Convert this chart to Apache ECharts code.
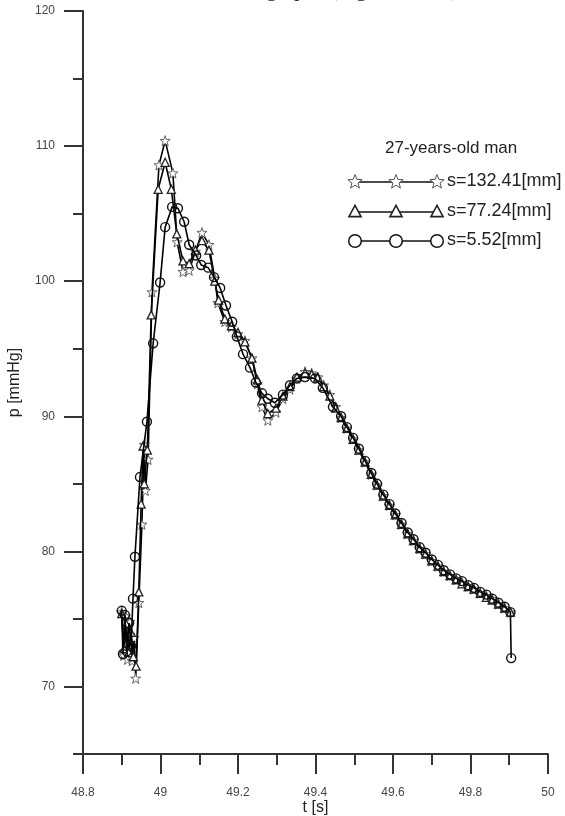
<!DOCTYPE html>
<html>
<head>
<meta charset="utf-8">
<script src="https://cdn.jsdelivr.net/npm/echarts@6/dist/echarts.min.js"></script>
<style>
  html, body { margin: 0; padding: 0; background: #fff; }
  #chart { width: 565px; height: 816px; }
</style>
</head>
<body>
<div id="chart"></div>
<script>
// Pressure waveforms p(t) of a 27-year-old man at three measuring distances s.

// Early part of each waveform (rise, systolic peak, dicrotic notch, dicrotic wave)
const tStar = [48.900, 48.905, 48.910, 48.915, 48.921, 48.927, 48.932, 48.936, 48.944, 48.952,
  48.958, 48.961, 48.968, 48.978, 48.996, 49.012, 49.032, 49.043, 49.058, 49.074,
  49.090, 49.107, 49.125, 49.140, 49.148, 49.166, 49.183, 49.200, 49.218, 49.236,
  49.250, 49.262, 49.277, 49.298, 49.316, 49.334, 49.352, 49.373, 49.390, 49.406,
  49.421, 49.437, 49.452];
const pStar = [75.5, 72.3, 75.2, 72.0, 74.8, 71.9, 73.6, 70.6, 76.2, 82.0,
  87.9, 84.5, 86.8, 99.2, 108.6, 110.4, 108.0, 102.9, 100.7, 100.8,
  102.2, 103.6, 102.7, 100.2, 98.4, 97.0, 96.6, 96.1, 95.6, 94.3,
  92.4, 90.7, 89.7, 90.3, 91.3, 92.0, 92.8, 93.3, 93.2, 92.9,
  92.3, 91.6, 90.7];

const tTri = [48.900, 48.906, 48.912, 48.918, 48.924, 48.930, 48.937, 48.944, 48.950, 48.955,
  48.958, 48.966, 48.976, 48.994, 49.012, 49.028, 49.042, 49.058, 49.074, 49.090,
  49.107, 49.125, 49.140, 49.150, 49.166, 49.183, 49.200, 49.218, 49.236, 49.250,
  49.262, 49.277, 49.298, 49.316, 49.334, 49.352, 49.373, 49.390, 49.406, 49.421,
  49.437, 49.452];
const pTri = [75.4, 72.8, 74.6, 72.5, 74.0, 72.2, 71.5, 77.0, 83.5, 87.8,
  85.0, 87.5, 97.5, 106.8, 108.8, 106.8, 103.5, 101.5, 101.3, 102.3,
  103.0, 102.3, 100.0, 98.6, 97.2, 96.7, 96.2, 95.5, 94.3, 92.7,
  91.2, 90.2, 90.6, 91.5, 92.2, 92.9, 93.2, 93.1, 92.9, 92.2,
  91.5, 90.6];

const tCir = [48.900, 48.903, 48.908, 48.913, 48.919, 48.924, 48.929, 48.934, 48.947, 48.965,
  48.981, 48.999, 49.012, 49.030, 49.045, 49.061, 49.074, 49.092, 49.105, 49.123,
  49.138, 49.154, 49.169, 49.185, 49.197, 49.213, 49.231, 49.246, 49.262, 49.277,
  49.295, 49.316, 49.334, 49.352, 49.373, 49.399, 49.419, 49.445];
const pCir = [75.6, 72.4, 75.3, 72.6, 74.7, 73.0, 76.5, 79.6, 85.5, 89.6,
  95.4, 99.9, 104.0, 105.5, 105.4, 104.4, 102.7, 101.9, 101.2, 101.0,
  100.3, 99.5, 98.2, 97.0, 95.9, 94.6, 93.6, 92.5, 91.7, 91.3,
  91.0, 91.6, 92.3, 92.8, 92.9, 92.8, 92.1, 90.7];

// Diastolic decay, sampled on a common time grid
const tTail = [49.466, 49.481, 49.497, 49.512, 49.528, 49.544, 49.559, 49.575, 49.591, 49.606,
  49.622, 49.638, 49.653, 49.669, 49.684, 49.700, 49.716, 49.731, 49.747, 49.763,
  49.778, 49.794, 49.809, 49.825, 49.841, 49.856, 49.872, 49.888, 49.903];
const pStarTail = [89.9, 89.1, 88.3, 87.5, 86.6, 85.7, 84.9, 84.1, 83.4, 82.7,
  82.0, 81.3, 80.8, 80.2, 79.8, 79.3, 78.9, 78.5, 78.2, 77.9,
  77.7, 77.4, 77.2, 76.9, 76.7, 76.5, 76.1, 75.8, 75.5];
const pTriTail = [89.9, 89.1, 88.3, 87.5, 86.6, 85.7, 84.9, 84.1, 83.4, 82.7,
  82.0, 81.3, 80.8, 80.2, 79.8, 79.3, 78.9, 78.5, 78.2, 77.9,
  77.6, 77.4, 77.2, 76.9, 76.6, 76.4, 76.1, 75.8, 75.5];
const pCirTail = [90.0, 89.2, 88.4, 87.6, 86.7, 85.8, 85.0, 84.2, 83.5, 82.8,
  82.1, 81.4, 80.9, 80.3, 79.9, 79.4, 79.0, 78.6, 78.3, 78.0,
  77.8, 77.5, 77.3, 77.0, 76.8, 76.5, 76.2, 75.9, 75.5];
// last sample of the s=5.52 record
const tCirEnd = [49.905];
const pCirEnd = [72.1];

const seriesNames = ['s=132.41[mm]', 's=77.24[mm]', 's=5.52[mm]'];
const legendTitle = '27-years-old man';
const xTicks = [48.8, 50, 0.2];
const yMajor = [70, 80, 90, 100, 110, 120];
const yMinor = [65, 75, 85, 95, 105, 115];

const pairs = (ts, ps) => ts.map((t, i) => [t, ps[i]]);
const starData = pairs(tStar.concat(tTail), pStar.concat(pStarTail));
const triData = pairs(tTri.concat(tTail), pTri.concat(pTriTail));
const cirData = pairs(tCir.concat(tTail, tCirEnd), pCir.concat(pCirTail, pCirEnd));

const FONT = 'Arial, "Liberation Sans", Helvetica, sans-serif';
const AX = '#333';
const STAR_PATH = 'path://M0,-10L2.35,-3.24L9.51,-3.09L3.8,1.24L5.88,8.09L0,4.2L-5.88,8.09L-3.8,1.24L-9.51,-3.09L-2.35,-3.24Z';

function starPts(cx, cy, R, r) {
  const pts = [];
  for (let k = 0; k < 10; k++) {
    const a = -Math.PI / 2 + k * Math.PI / 5;
    const rad = k % 2 ? r : R;
    pts.push([cx + rad * Math.cos(a), cy + rad * Math.sin(a)]);
  }
  return pts;
}
function triPts(cx, cy, s) {
  return [[cx, cy - s * 0.6], [cx + s * 0.55, cy + s * 0.42], [cx - s * 0.55, cy + s * 0.42]];
}

// hand-drawn style key in the upper right
const keyX = [355, 396, 437];
const keyRows = [182, 212, 241];
const keyGraphics = [{
  type: 'text', left: 385, top: 140,
  style: { text: legendTitle, font: '17px ' + FONT, fill: '#222' }
}];
keyRows.forEach((y, i) => {
  keyGraphics.push({
    type: 'line', shape: { x1: keyX[0], y1: y, x2: keyX[2], y2: y },
    style: { stroke: '#111', lineWidth: 1.3 }
  });
  keyX.forEach(x => {
    if (i === 0) {
      keyGraphics.push({ type: 'polygon', shape: { points: starPts(x, y, 7.5, 3.2) },
        style: { fill: '#fff', stroke: '#555', lineWidth: 1 } });
    } else if (i === 1) {
      keyGraphics.push({ type: 'polygon', shape: { points: triPts(x, y, 11) },
        style: { fill: '#fff', stroke: '#222', lineWidth: 1.6 } });
    } else {
      keyGraphics.push({ type: 'circle', shape: { cx: x, cy: y, r: 6.3 },
        style: { fill: '#fff', stroke: '#111', lineWidth: 1.5 } });
    }
  });
  keyGraphics.push({
    type: 'text', left: 447, top: y - 10,
    style: { text: seriesNames[i], font: '18px ' + FONT, fill: '#222' }
  });
});
// clipped caption line above the plot
keyGraphics.push({
  type: 'text', left: 266, top: -20.5,
  style: { text: 'graphs (Figure 10-11)', font: '22px "Liberation Serif", "Times New Roman", serif', fill: '#222' }
});

const chart = echarts.init(document.getElementById('chart'), null, { renderer: 'canvas' });
chart.setOption({
  animation: false,
  backgroundColor: '#fff',
  grid: { left: 83, right: 17, top: 11, bottom: 62, containLabel: false, outerBoundsMode: 'none' },
  xAxis: {
    type: 'value', min: xTicks[0], max: xTicks[1], interval: xTicks[2],
    name: 't [s]', nameLocation: 'middle', nameGap: 46, nameMoveOverlap: false,
    nameTextStyle: { fontFamily: FONT, fontSize: 16, color: '#222' },
    axisLine: { show: true, onZero: false, lineStyle: { color: AX, width: 2 } },
    axisTick: { show: true, length: 20, lineStyle: { color: AX, width: 2 } },
    minorTick: { show: true, splitNumber: 2, length: 11, lineStyle: { color: AX, width: 2 } },
    axisLabel: { margin: 33, fontFamily: FONT, fontSize: 12, color: '#444' },
    splitLine: { show: false }, minorSplitLine: { show: false }
  },
  yAxis: [{
    type: 'value', min: 65, max: 120, interval: 5, position: 'left',
    name: 'p [mmHg]', nameLocation: 'middle', nameGap: 60, nameMoveOverlap: false,
    nameTextStyle: { fontFamily: FONT, fontSize: 16, color: '#222' },
    axisLine: { show: true, onZero: false, lineStyle: { color: AX, width: 2 } },
    axisTick: { show: true, length: 10, customValues: yMinor, lineStyle: { color: AX, width: 2 } },
    axisLabel: { show: false },
    splitLine: { show: false }
  }, {
    type: 'value', min: 65, max: 120, interval: 5, position: 'left',
    axisLine: { show: false },
    axisTick: { show: true, length: 19, customValues: yMajor, lineStyle: { color: AX, width: 2 } },
    axisLabel: { customValues: yMajor, margin: 28, fontFamily: FONT, fontSize: 12, color: '#444' },
    splitLine: { show: false }
  }],
  graphic: keyGraphics,
  series: [{
    name: seriesNames[0], type: 'line', data: starData, yAxisIndex: 0,
    showAllSymbol: true, symbol: STAR_PATH, symbolSize: 10,
    lineStyle: { color: '#000', width: 1.6 },
    itemStyle: { color: '#fff', borderColor: '#555', borderWidth: 0.9 },
    z: 2
  }, {
    name: seriesNames[1], type: 'line', data: triData, yAxisIndex: 0,
    showAllSymbol: true, symbol: 'triangle', symbolSize: 8,
    lineStyle: { color: '#000', width: 1.6 },
    itemStyle: { color: '#fff', borderColor: '#222', borderWidth: 1.3 },
    z: 3
  }, {
    name: seriesNames[2], type: 'line', data: cirData, yAxisIndex: 0,
    showAllSymbol: true, symbol: 'circle', symbolSize: 9,
    lineStyle: { color: '#000', width: 1.6 },
    itemStyle: { color: 'rgba(255,255,255,0)', borderColor: '#111', borderWidth: 1.4 },
    z: 4
  }]
});
</script>
</body>
</html>
